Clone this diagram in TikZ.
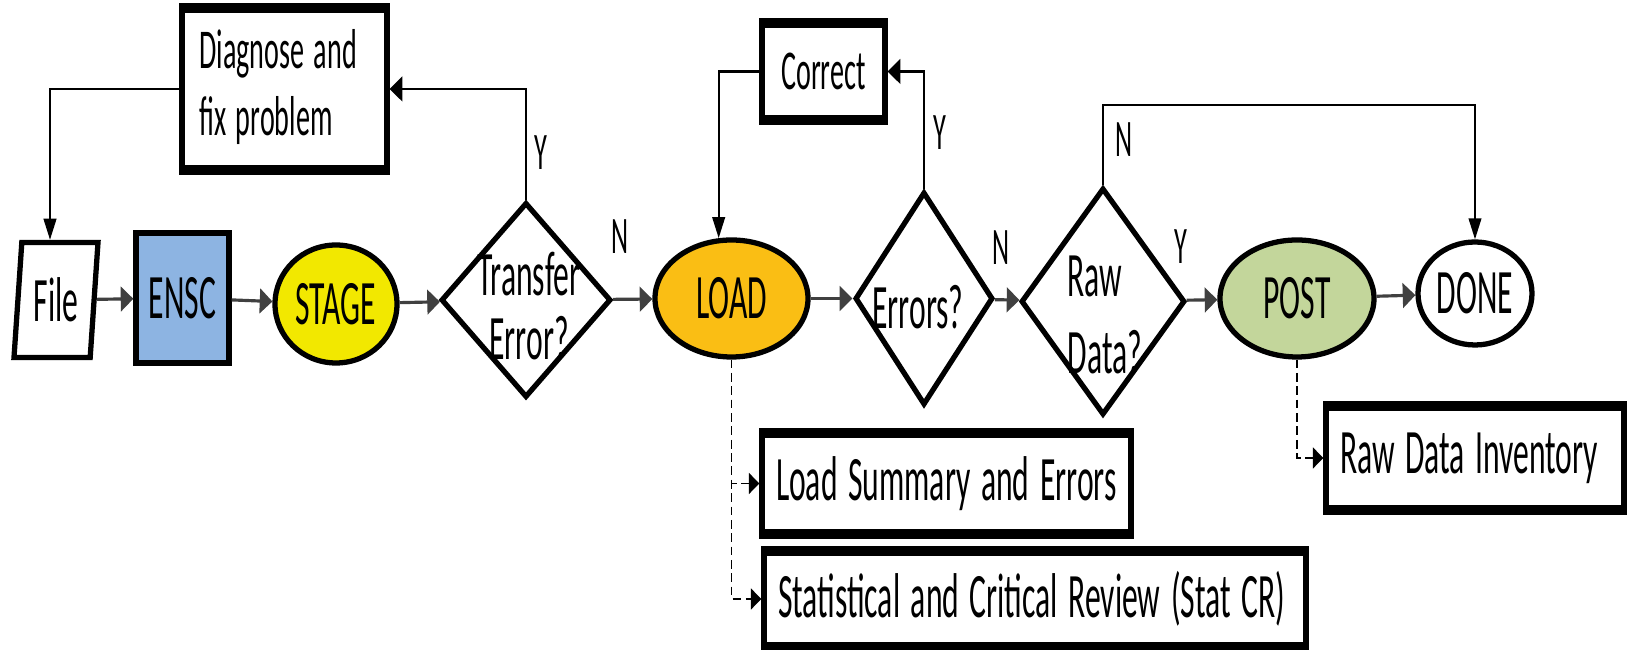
\documentclass[tikz,border=0pt]{standalone}
\usepackage{fontspec}
\setmainfont{Carlito}
\usetikzlibrary{arrows.meta,shapes.geometric,calc}

\definecolor{enscblue}{RGB}{141,180,226}
\definecolor{stageyellow}{RGB}{242,232,0}
\definecolor{loadorange}{RGB}{250,190,20}
\definecolor{postgreen}{RGB}{195,214,155}

% condensed lettering: half width, full height
\newcommand\sq[1]{\scalebox{0.5}[1]{#1}}
\newcommand\sqlines[2]{\scalebox{0.5}[1]{\begin{tabular}{@{}#1@{}}#2\end{tabular}}}

\begin{document}
\begin{tikzpicture}[x=1cm,y=1cm,
    base/.style={draw=black, line width=1.5pt, inner sep=0pt, font=\fontsize{18}{21}\selectfont},
    stepbox/.style={base, rectangle},
    note/.style={base, rectangle, align=left, inner xsep=0.14cm},
    term/.style={base, ellipse},
    query/.style={base, diamond},
    qtext/.style={inner sep=0pt},
    yn/.style={font=\fontsize{15}{18}\selectfont, inner sep=0pt},
    hend/.style={-{Triangle[length=3.6pt,width=7pt]}},
    vend/.style={-{Triangle[length=6pt,width=3.6pt]}},
    flow/.style={hend, line width=0.9pt, black!75},
    back/.style={line width=0.6pt},
    feed/.style={-{Triangle[length=3pt,width=6pt]}, line width=0.5pt, dash pattern=on 2.5pt off 1.3pt}
]

    % --- Canvas ---
    \useasboundingbox (0,0) rectangle (16.27,6.50);
    \fill[white] (0,0) rectangle (16.27,6.50);

    % --- Main row ---
    \node[base, trapezium, trapezium left angle=80, trapezium right angle=100,
        trapezium stretches body, minimum width=0.84cm, minimum height=1.15cm] (file) at (0.56,3.50) {\sq{File}};
    \node[stepbox, fill=enscblue, minimum width=0.93cm, minimum height=1.30cm] (ensc) at (1.825,3.52) {\sq{ENSC}};
    \node[term, fill=stageyellow, minimum width=1.22cm, minimum height=1.18cm] (stage) at (3.36,3.46) {\sq{STAGE}};

    \node[query, minimum width=1.70cm, minimum height=1.95cm] (xfer) at (5.26,3.50) {};
    \node[qtext, font=\fontsize{18}{18.4}\selectfont] (xfertxt) at (5.29,3.355) {\sqlines{c}{Transfer\\Error?}};

    \node[term, fill=loadorange, minimum width=1.53cm, minimum height=1.17cm] (load) at (7.315,3.515) {\sq{LOAD}};

    \node[query, minimum width=1.38cm, minimum height=2.13cm] (err) at (9.24,3.515) {};
    \node[qtext, font=\fontsize{18}{21}\selectfont] (errtxt) at (9.18,3.43) {\sq{Errors?}};

    \node[query, minimum width=1.64cm, minimum height=2.27cm] (raw) at (11.03,3.485) {};
    \node[qtext, anchor=west, font=\fontsize{18}{21.8}\selectfont] (rawtxt) at (10.67,3.305) {\sqlines{l}{Raw\\Data?}};

    \node[term, fill=postgreen, minimum width=1.54cm, minimum height=1.17cm] (post) at (12.97,3.515) {\sq{POST}};
    \node[term, fill=white, minimum width=1.14cm, minimum height=1.03cm] (done) at (14.75,3.565) {\sq{DONE}};

    % --- Fix-up boxes ---
    \node[stepbox, font=\fontsize{16}{19}\selectfont, align=left, text width=1.70cm,
        minimum width=2.05cm, minimum height=1.58cm] (diag) at (2.845,5.61) {\sqlines{l}{Diagnose and\\fix problem}};
    \node[stepbox, font=\fontsize{16}{19}\selectfont, minimum width=1.23cm, minimum height=0.93cm] (corr) at (8.235,5.785) {\sq{Correct}};

    % --- Reports ---
    \node[note, text width=3.41cm, minimum height=0.97cm] (lsum) at (9.465,1.665) {\sq{Load Summary and Errors}};
    \node[note, text width=5.14cm, minimum height=0.92cm] (stat) at (10.35,0.51) {\sq{Statistical and Critical Review (Stat CR)}};
    \node[note, text width=2.70cm, minimum height=1.00cm] (rdi) at (14.75,1.92) {\sq{Raw Data Inventory}};

    % heavier top and bottom rules on the boxes
    \foreach \n in {diag,corr,lsum,stat,rdi}
        \draw[line width=2.4pt] (\n.north west) -- (\n.north east) (\n.south west) -- (\n.south east);

    % --- Flow ---
    \draw[flow] (file) -- (ensc);
    \draw[flow] (ensc) -- (stage);
    \draw[flow] (stage) -- (xfer);
    \draw[flow] (xfer) -- (load);
    \draw[flow] (load) -- (err);
    \draw[flow] (err) -- (raw);
    \draw[flow] (raw) -- (post);
    \draw[flow] (post) -- (done);

    % --- Loops back ---
    \draw[back, hend] (xfer.north) |- (diag.east);
    \draw[back, vend] (diag.west) -| ($(file.north)+(-0.06,0)$);
    \draw[back, hend] (err.north) |- (corr.east);
    \draw[back, vend] (corr.west) -| (load.102);
    \draw[back, vend] (raw.north) -- ++(0,0.80) -| (done.north);

    % --- Report outputs ---
    \draw[feed] (load.south) |- (lsum.west);
    \draw[feed] (load.south) |- (stat.west);
    \draw[feed] (post.south) |- (rdi.west);

    % --- Branch labels ---
    \node[yn] (ya) at (5.41,4.97) {\sq{Y}};
    \node[yn] (na) at (6.20,4.13) {\sq{N}};
    \node[yn] (yb) at (9.40,5.17) {\sq{Y}};
    \node[yn] (nb) at (10.01,4.02) {\sq{N}};
    \node[yn] (nc) at (11.24,5.10) {\sq{N}};
    \node[yn] (yc) at (11.81,4.03) {\sq{Y}};

\end{tikzpicture}
\end{document}
